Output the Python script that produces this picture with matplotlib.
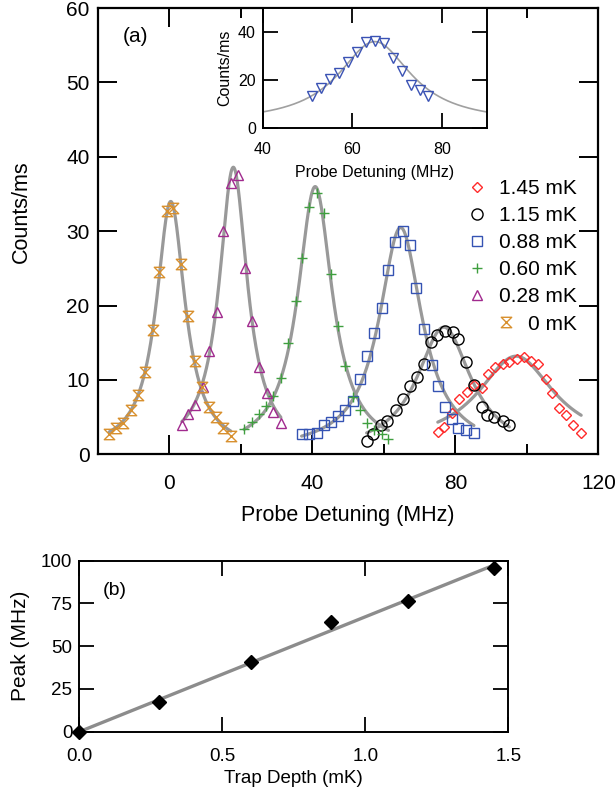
import numpy as np
import matplotlib
matplotlib.use("Agg")
import matplotlib.pyplot as plt
from matplotlib.path import Path

plt.rcParams['font.family'] = ['Liberation Sans', 'DejaVu Sans']

# ---------------- data (panel a) ----------------
labels = ["1.45 mK", "1.15 mK", "0.88 mK", "0.60 mK", "0.28 mK", "0 mK"]
colors = ["#ff2a2a", "#000000", "#3553b3", "#3f9f3f", "#a12a8e", "#d8902e"]

x_145 = [75.1, 76.9, 79.0, 81.1, 83.2, 85.3, 87.4, 89.2, 91.1, 93.2, 95.0, 97.2,
         99.3, 101.2, 103.2, 105.3, 107.1, 109.0, 110.9, 113.0, 115.2]
y_145 = [3.0, 3.7, 5.6, 7.4, 8.4, 9.3, 8.9, 10.8, 11.8, 12.1, 12.4, 12.8,
         13.1, 12.6, 12.1, 10.1, 8.2, 6.2, 5.3, 3.9, 2.9]

x_115 = [55.2, 57.1, 59.1, 61.0, 63.3, 65.3, 67.3, 69.2, 71.2, 73.1, 75.0, 77.1,
         79.4, 80.8, 83.0, 85.2, 87.4, 89.0, 90.8, 93.3, 95.1]
y_115 = [1.8, 2.7, 4.0, 4.5, 6.0, 7.5, 9.2, 10.4, 12.1, 15.1, 16.1, 16.6,
         16.5, 15.5, 12.4, 9.3, 6.3, 5.3, 5.0, 4.5, 3.9]

x_088 = [37.0, 39.2, 41.2, 43.3, 45.2, 47.3, 49.1, 51.5, 53.3, 55.2, 57.3, 59.4,
         61.3, 63.1, 65.3, 67.3, 69.0, 71.2, 73.4, 75.2, 77.1, 79.0, 80.8, 83.0, 85.2]
y_088 = [2.8, 2.7, 2.9, 3.9, 4.4, 5.1, 6.0, 7.2, 10.1, 13.2, 16.3, 19.7,
         24.8, 28.5, 30.0, 28.2, 22.4, 16.8, 12.0, 9.2, 6.3, 4.8, 3.5, 3.3, 2.9]

x_060 = [20.9, 23.0, 25.1, 27.0, 29.1, 31.2, 33.3, 35.3, 37.2, 39.2, 41.2, 43.3,
         45.2, 47.1, 49.1, 51.3, 53.3, 55.2, 57.3, 59.4, 61.3]
y_060 = [3.4, 4.4, 5.4, 6.5, 7.8, 10.2, 15.0, 20.6, 26.4, 33.3, 35.1, 32.4,
         24.3, 17.2, 11.9, 7.7, 5.9, 4.2, 3.3, 2.8, 2.0]

x_028 = [3.5, 5.3, 7.2, 9.3, 11.2, 13.3, 15.1, 17.2, 19.3, 21.2, 23.0, 25.1,
         27.2, 29.1, 31.2]
y_028 = [3.9, 5.4, 6.6, 9.0, 13.9, 19.1, 30.0, 36.5, 37.6, 25.0, 17.9, 11.7,
         8.2, 5.7, 4.2]

x_000 = [-16.8, -14.9, -12.9, -10.8, -8.7, -6.7, -4.7, -2.8, -0.7, 1.1, 3.4, 5.2,
         7.2, 9.1, 11.2, 13.1, 15.1, 17.2]
y_000 = [2.7, 3.5, 4.2, 5.9, 8.0, 11.1, 16.7, 24.5, 32.7, 33.1, 25.6, 18.6,
         12.6, 9.0, 6.4, 5.0, 3.5, 2.5]

# Lorentzian fit parameters (center, amplitude, HWHM, offset), same order as labels
fit_center = [97.0, 76.8, 64.7, 40.8, 17.9, 0.4]
fit_amp = [12.0, 16.8, 30.0, 35.5, 38.0, 33.5]
fit_hwhm = [13.0, 9.2, 7.3, 5.9, 4.8, 4.9]
fit_offset = [1.2, 0.3, 0.5, 0.5, 0.6, 0.5]

# inset data (Counts/ms vs Probe Detuning)
x_inset = [51.1, 53.1, 55.1, 57.0, 59.0, 61.0, 63.0, 65.0, 67.0, 69.0, 71.1,
           73.1, 75.1, 77.0]
y_inset = [13.3, 16.5, 20.6, 22.8, 27.6, 31.5, 36.0, 36.4, 35.6, 29.0, 23.9,
           17.9, 15.8, 13.3]
inset_fit = [65.0, 34.0, 10.0, 2.0]   # center, amplitude, HWHM, offset

# ---------------- data (panel b) ----------------
trap_depth = [0.0, 0.28, 0.60, 0.88, 1.15, 1.45]
peak_mhz = [0.0, 17.5, 40.5, 64.3, 76.6, 95.7]
fit_slope = 67.2
fit_range = [0.0, 1.45]


def lorentz(x, x0, a, g, c):
    return a / (1.0 + ((x - x0) / g) ** 2) + c


hourglass = Path([(-1, 1), (1, 1), (-1, -1), (1, -1), (-1, 1)],
                 [Path.MOVETO, Path.LINETO, Path.LINETO, Path.LINETO, Path.CLOSEPOLY])

xs = [x_145, x_115, x_088, x_060, x_028, x_000]
ys = [y_145, y_115, y_088, y_060, y_028, y_000]
markers = ["D", "o", "s", "+", "^", hourglass]
msizes = [4.6, 8.0, 7.3, 7.5, 7.5, 7.5]

fig = plt.figure(figsize=(6.16, 8.01), dpi=100)
ax = fig.add_axes([0.1588, 0.4328, 0.8125, 0.5571])

fit_color = "#999999"
for i in range(6):
    xx = np.linspace(min(xs[i]), max(xs[i]), 300)
    ax.plot(xx, lorentz(xx, fit_center[i], fit_amp[i], fit_hwhm[i], fit_offset[i]),
            color=fit_color, lw=2.3, zorder=2, solid_capstyle='round')

handles = []
for i in range(6):
    h, = ax.plot(xs[i], ys[i], linestyle="none", marker=markers[i], ms=msizes[i],
                 mfc="none", mec=colors[i], mew=1.0, zorder=3, label=labels[i])
    handles.append(h)

ax.set_xlim(-20, 120)
ax.set_ylim(0, 60)
ax.set_xticks([0, 40, 80, 120])
ax.set_xticks([20, 60, 100], minor=True)
ax.set_yticks([0, 10, 20, 30, 40, 50, 60])
ax.tick_params(which="major", direction="in", length=14, width=1.4, top=True, right=True,
               labelsize=15)
ax.tick_params(which="minor", direction="in", length=7, width=1.4, top=True, right=True)
ax.tick_params(axis="x", which="major", pad=14)
ax.tick_params(axis="y", which="major", pad=6)
for s in ax.spines.values():
    s.set_linewidth(1.6)
ax.set_xlabel("Probe Detuning (MHz)", fontsize=15.5, labelpad=9)
ax.set_ylabel("Counts/ms", fontsize=15.5)
ax.yaxis.set_label_coords(-0.132, 0.543)
ax.text(0.05, 0.925, "(a)", transform=ax.transAxes, fontsize=15)

leg = ax.legend(handles=handles, loc="upper right", bbox_to_anchor=(0.9575, 0.617),
                frameon=False, fontsize=15, handlelength=1.0, handletextpad=0.55,
                labelspacing=0.39, borderpad=0, borderaxespad=0)
try:
    for col in leg._legend_handle_box.get_children():
        col.align = "right"
except Exception:
    pass

# ---------------- inset ----------------
axi = fig.add_axes([0.4265, 0.8402, 0.3636, 0.1498])
xi = np.linspace(40, 90, 300)
axi.plot(xi, lorentz(xi, *inset_fit), color="#a0a0a0", lw=1.2, zorder=2)
axi.plot(x_inset, y_inset, linestyle="none", marker="v", ms=7.3, mfc="none",
         mec="#3a52b4", mew=1.0, zorder=3)
axi.set_xlim(40, 90)
axi.set_ylim(0, 50)
axi.set_xticks([40, 60, 80])
axi.set_yticks([0, 20, 40])
axi.tick_params(direction="in", length=11, width=1.3, top=True, right=True,
                labelsize=11.5)
axi.tick_params(axis="x", pad=10)
axi.tick_params(axis="y", pad=5)
for s in axi.spines.values():
    s.set_linewidth(1.4)
axi.set_xlabel("Probe Detuning (MHz)", fontsize=11.5, labelpad=6)
axi.set_ylabel("Counts/ms", fontsize=11.5, labelpad=4)

# ---------------- panel b ----------------
axb = fig.add_axes([0.1288, 0.0865, 0.6964, 0.2135])
fx = np.array(fit_range)
axb.plot(fx, fit_slope * fx, color="#8c8c8c", lw=2.4, zorder=2)
axb.plot(trap_depth, peak_mhz, linestyle="none", marker="D", ms=7.0, color="black",
         zorder=3, clip_on=False)
axb.set_xlim(0, 1.5)
axb.set_ylim(0, 100)
axb.set_xticks([0.0, 0.5, 1.0, 1.5])
axb.set_xticklabels(["0.0", "0.5", "1.0", "1.5"])
axb.set_yticks([0, 25, 50, 75, 100])
axb.tick_params(direction="in", length=11, width=1.3, top=True, right=True,
                labelsize=13.5)
axb.tick_params(axis="x", pad=12)
axb.tick_params(axis="y", pad=5)
for s in axb.spines.values():
    s.set_linewidth(1.4)
axb.set_xlabel("Trap Depth (mK)", fontsize=13.5, labelpad=3)
axb.set_ylabel("Peak (MHz)", fontsize=15, labelpad=8)
axb.text(0.055, 0.80, "(b)", transform=axb.transAxes, fontsize=14)

fig.savefig("out.png", dpi=100)
